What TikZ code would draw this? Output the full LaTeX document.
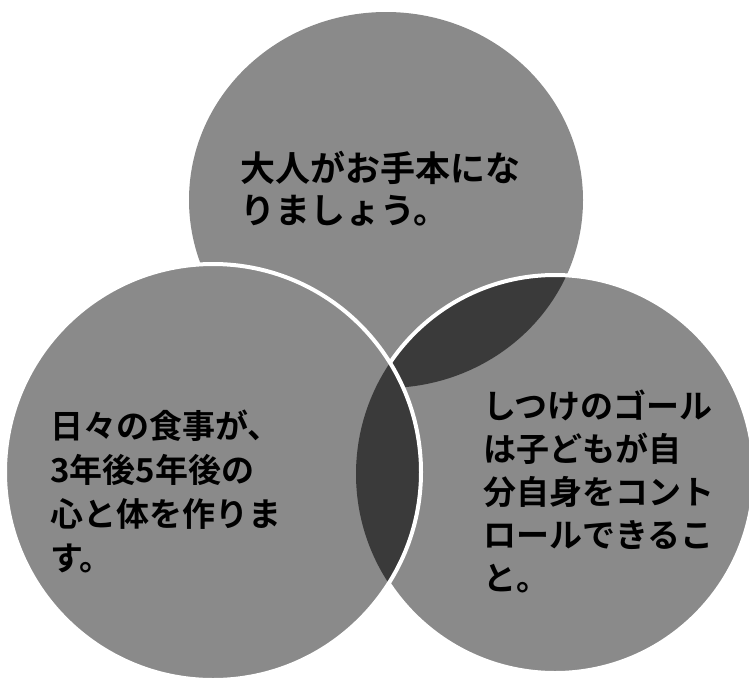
\documentclass[tikz,border=0pt]{standalone}
\usepackage{fontspec}
\usepackage{tikz}
\usepackage{xcolor}
\newfontfamily\jpfont{Noto Sans CJK JP}[BoldFont={Noto Sans CJK JP Bold}]
\definecolor{dotgray}{RGB}{138, 138, 138}
\definecolor{lensgray}{RGB}{58, 58, 58}

\begin{document}
\begin{tikzpicture}[x=1pt, y=-1pt,
        every node/.style={font=\jpfont\bfseries\fontsize{33}{44}\selectfont, text=black, align=left, inner sep=0pt},
        disc/.style={fill=dotgray},
        rim/.style={draw=white, line width=4pt}]

        \useasboundingbox (0,0) rectangle (749,678);

        % Circle centres
        \coordinate (tc) at (386,200);
        \coordinate (lc) at (213,472);
        \coordinate (rc) at (555,474);

        % Top circle
        \fill[disc] (tc) ellipse[x radius=197, y radius=188];

        % Right circle, darker overlap with the top one
        \fill[disc] (rc) circle[radius=199];
        \begin{scope}
          \clip (rc) circle[radius=199];
          \fill[lensgray] (tc) ellipse[x radius=197, y radius=188];
        \end{scope}
        \draw[rim] (rc) circle[radius=199];

        % Left circle, darker overlap with the right one
        \fill[disc] (lc) circle[radius=208];
        \begin{scope}
          \clip (lc) circle[radius=208];
          \fill[lensgray] (rc) circle[radius=199];
        \end{scope}
        \draw[rim] (lc) circle[radius=208];

        % Texts
        \node[anchor=west, font=\jpfont\bfseries\fontsize{35}{42}\selectfont] (toptext) at (240,189)
          {大人がお手本にな\\りましょう。};
        \node[anchor=west] (lefttext) at (50,491)
          {日々の食事が、\\3年後5年後の\\心と体を作りま\\す。};
        \node[anchor=west, font=\jpfont\bfseries\fontsize{33}{43}\selectfont] (righttext) at (483,491)
          {しつけのゴール\\は子どもが自\\分自身をコント\\ロールできるこ\\と。};

    \end{tikzpicture}
\end{document}
